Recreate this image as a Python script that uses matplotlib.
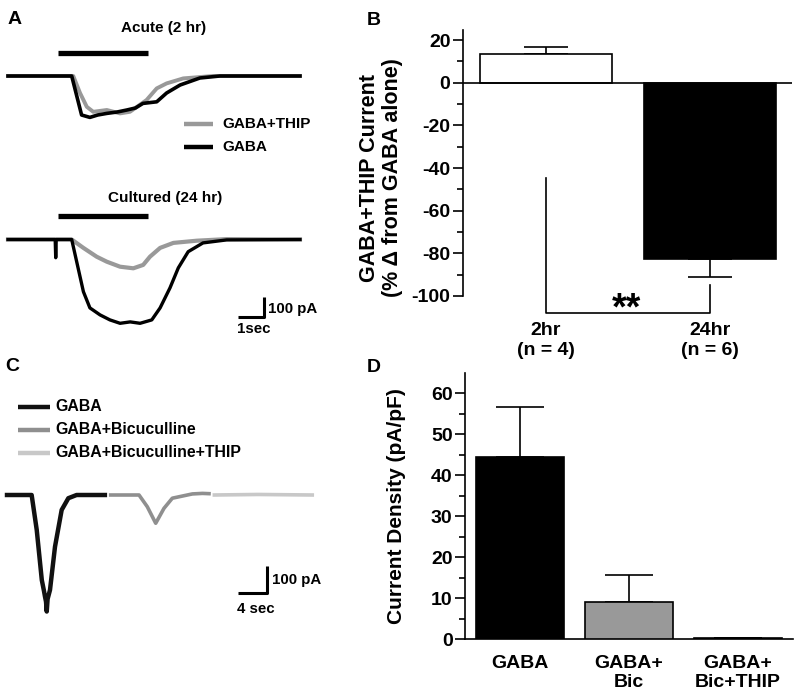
import numpy as np
import matplotlib
matplotlib.use('Agg')
import matplotlib.pyplot as plt
from matplotlib.lines import Line2D
from matplotlib.ticker import MultipleLocator

plt.rcParams['font.family'] = 'Liberation Sans'
plt.rcParams['font.weight'] = 'bold'
plt.rcParams['axes.unicode_minus'] = False

W, H = 800, 695

# ---- panel A traces (time in s, current in pA) ----
acute_gaba_t = [0, 2.45, 2.83, 3.15, 3.45, 3.80, 4.2, 4.57, 4.9, 5.19, 5.72, 6.10, 6.62, 7.38, 8.15, 11.23]
acute_gaba_i = [0, 0, -195, -207, -195, -187, -180, -170, -160, -137, -129, -85, -45, -10, 0, 0]
acute_thip_t = [0, 2.51, 2.77, 3.03, 3.28, 3.80, 4.31, 4.69, 5.33, 5.72, 6.10, 6.74, 7.88, 11.23]
acute_thip_i = [0, 0, -85, -154, -179, -170, -187, -179, -120, -62, -37, -12, 0, 0]

cult_gaba_t = [0, 1.815, 1.835, 1.854, 2.45, 2.90, 3.15, 3.54, 3.92, 4.31, 4.7, 5.08, 5.53, 5.85, 6.23,
               6.55, 6.93, 7.5, 8.41, 11.23]
cult_gaba_i = [0, 0, -91, 0, 0, -261, -342, -377, -402, -419, -412, -419, -402, -342, -242,
               -142, -61, -17, -2, 0]
cult_thip_t = [0, 2.45, 2.90, 3.41, 3.80, 4.31, 4.82, 5.20, 5.46, 5.85, 6.36, 7.26, 8.41, 11.23]
cult_thip_i = [0, 0, -42, -86, -111, -136, -144, -127, -86, -42, -17, -6, 2, 0]

stim_on, stim_off = 1.92, 5.38

# ---- panel B ----
b_labels = ['2hr\n(n = 4)', '24hr\n(n = 6)']
b_means = [13.5, -82.8]
b_sem = [3.0, 8.3]
b_colors = ['white', 'black']
b_yticks = [-100, -80, -60, -40, -20, 0, 20]

# ---- panel C traces (time in s, current in pA) ----
c_gaba_t = [0, 3.4, 4.1, 4.8, 5.1, 5.24, 5.38, 5.48, 5.6, 5.93, 6.62, 7.54, 8.46, 9.6, 13.5]
c_gaba_i = [0, 0, -131, -319, -360, -381, -400, -437, -390, -356, -194, -56, -12, 0, 0]
c_bic_t = [0, 3.91, 5.05, 6.21, 7.35, 8.5, 11.26, 12.66, 13.56]
c_bic_i = [0, 0, -44, -106, -50, -12, 4, 6, 5]
c_thip_t = [0, 6.0, 13.5]
c_thip_i = [0, 2, 0]
c_names = ['GABA', 'GABA+Bicuculline', 'GABA+Bicuculline+THIP']
c_colors = ['#111111', '#8f8f8f', '#c8c8c8']

# ---- panel D ----
d_labels = ['GABA', 'GABA+\nBic', 'GABA+\nBic+THIP']
d_means = [44.4, 9.2, 0.2]
d_sem = [12.2, 6.5, 0.1]
d_colors = ['black', '#999999', 'white']
d_yticks = [0, 10, 20, 30, 40, 50, 60]


def box(x0, y0, x1, y1):
    return [x0 / W, 1 - y1 / H, (x1 - x0) / W, (y1 - y0) / H]


fig = plt.figure(figsize=(8, 6.95), dpi=100)


def ftext(px, py, s, **kw):
    fig.text(px / W, 1 - py / H, s, **kw)


def fline(xs, ys, **kw):
    fig.add_artist(Line2D([x / W for x in xs], [1 - y / H for y in ys], **kw))


def style_yaxis(ax, ticks, minor):
    ax.set_yticks(ticks)
    ax.set_yticklabels([str(v) for v in ticks], fontsize=14, fontweight='bold')
    ax.yaxis.set_minor_locator(MultipleLocator(minor))
    ax.tick_params(axis='y', width=1.2, length=7, pad=2)
    ax.tick_params(axis='y', which='minor', width=1.2, length=4)
    ax.spines['left'].set_linewidth(1.2)


# panel letters
ftext(8, 24, 'A', fontsize=14, va='baseline')
ftext(367, 25, 'B', fontsize=14, va='baseline')
ftext(5, 371, 'C', fontsize=14, va='baseline')
ftext(367, 372, 'D', fontsize=14, va='baseline')

# ---------- A ----------
axa1 = fig.add_axes(box(0, 20, 320, 170))
axa1.set_xlim(-0.308, 12.0)
axa1.set_ylim(-470, 280)
axa1.axis('off')
axa1.plot(acute_thip_t, acute_thip_i, color='#999999', lw=2.8)
axa1.plot(acute_gaba_t, acute_gaba_i, color='black', lw=2.6)
axa1.plot([stim_on, stim_off], [115, 115], color='black', lw=3.8, solid_capstyle='butt')

axa2 = fig.add_axes(box(0, 180, 320, 345))
axa2.set_xlim(-0.308, 12.0)
axa2.set_ylim(-527.5, 297.5)
axa2.axis('off')
axa2.plot(cult_thip_t, cult_thip_i, color='#999999', lw=3.0)
axa2.plot(cult_gaba_t, cult_gaba_i, color='black', lw=2.4)
axa2.plot([stim_on, stim_off], [119, 119], color='black', lw=3.8, solid_capstyle='butt')
# scale bar 1 s / 100 pA
axa2.plot([8.85, 9.85, 9.85], [-385, -385, -285], color='black', lw=2.2, solid_capstyle='butt')

ftext(164, 28, 'Acute (2 hr)', fontsize=11, ha='center', va='center')
ftext(165, 198, 'Cultured (24 hr)', fontsize=11, ha='center', va='center')
fline([184, 213], [123.5, 123.5], color='#999999', lw=3.2, solid_capstyle='butt')
fline([184, 213], [147, 147], color='black', lw=3.2, solid_capstyle='butt')
ftext(222, 124, 'GABA+THIP', fontsize=11, va='center')
ftext(222, 147, 'GABA', fontsize=11, va='center')
ftext(268, 309, '100 pA', fontsize=10.8, va='center')
ftext(237, 329, '1sec', fontsize=10.8, va='center')

# ---------- B ----------
axb = fig.add_axes(box(463, 30, 792, 296))
xb = np.arange(len(b_means))
axb.bar(xb, b_means, width=0.805, color=b_colors, edgecolor='black', linewidth=1.2, zorder=3)
for x, m, s in zip(xb, b_means, b_sem):
    err = [[0], [s]] if m > 0 else [[s], [0]]
    axb.errorbar([x], [m], yerr=err, fmt='none', ecolor='black', elinewidth=1.2,
                 capsize=16, capthick=1.2, zorder=2)
axb.axhline(0, color='black', lw=1.2, zorder=4)
axb.set_xlim(-0.506, 1.5)
axb.set_xticks(xb)
axb.set_xticklabels(b_labels, fontsize=14, fontweight='bold', linespacing=1.2)
axb.tick_params(axis='x', length=0, pad=19)
style_yaxis(axb, b_yticks, 10)
axb.set_ylim(-100, 24.7)
for side in ['top', 'right', 'bottom']:
    axb.spines[side].set_visible(False)
axb.plot([0, 0, 1, 1], [-44.5, -108, -108, -95], color='black', lw=1.2, clip_on=False)
axb.text(0.49, -111, '**', fontsize=27, ha='center', va='baseline')
ftext(381, 178, 'GABA+THIP Current\n(% \u0394 from GABA alone)', fontsize=15.5,
      rotation=90, ha='center', va='center', linespacing=1.15)

# ---------- C ----------
axc = fig.add_axes(box(0, 470, 320, 625))
axc.set_xlim(-0.966, 43.17)
axc.set_ylim(-487.5, 93.75)
axc.axis('off')
sweep_gap = 14.3
c_traces = [(c_gaba_t, c_gaba_i), (c_bic_t, c_bic_i), (c_thip_t, c_thip_i)]
c_widths = [3.2, 2.6, 2.6]
for k, ((t, i), col, lw) in enumerate(zip(c_traces, c_colors, c_widths)):
    axc.plot(np.array(t) + k * sweep_gap, i, color=col, lw=lw)
# scale bar 4 s / 100 pA
axc.plot([31.86, 35.86, 35.86], [-367.5, -367.5, -267.5], color='black', lw=2.2, solid_capstyle='butt')
ftext(272, 580, '100 pA', fontsize=10.8, va='center')
ftext(237, 609, '4 sec', fontsize=10.8, va='center')
for k, (name, col) in enumerate(zip(c_names, c_colors)):
    yy = 406.7 + k * 23
    fline([18, 50], [yy, yy], color=col, lw=3.2, solid_capstyle='butt')
    ftext(55, yy, name, fontsize=11.4, va='center')

# ---------- D ----------
axd = fig.add_axes(box(465, 373, 793, 639.3))
xd = np.arange(len(d_means))
axd.bar(xd, d_means, width=0.81, color=d_colors, edgecolor='black', linewidth=1.2, zorder=3)
axd.errorbar(xd, d_means, yerr=[[0] * len(d_sem), d_sem], fmt='none', ecolor='black',
             elinewidth=1.2, capsize=17, capthick=1.2, zorder=2)
axd.set_xlim(-0.505, 2.505)
axd.set_xticks(xd)
axd.set_xticklabels(d_labels, fontsize=14, fontweight='bold', linespacing=1.2)
axd.tick_params(axis='x', length=0, pad=11)
style_yaxis(axd, d_yticks, 5)
axd.set_ylim(0, 64.9)
for side in ['top', 'right']:
    axd.spines[side].set_visible(False)
axd.spines['bottom'].set_linewidth(1.2)
ftext(396, 506, 'Current Density (pA/pF)', fontsize=15, rotation=90, ha='center', va='center')

fig.savefig('out.png', dpi=100)
